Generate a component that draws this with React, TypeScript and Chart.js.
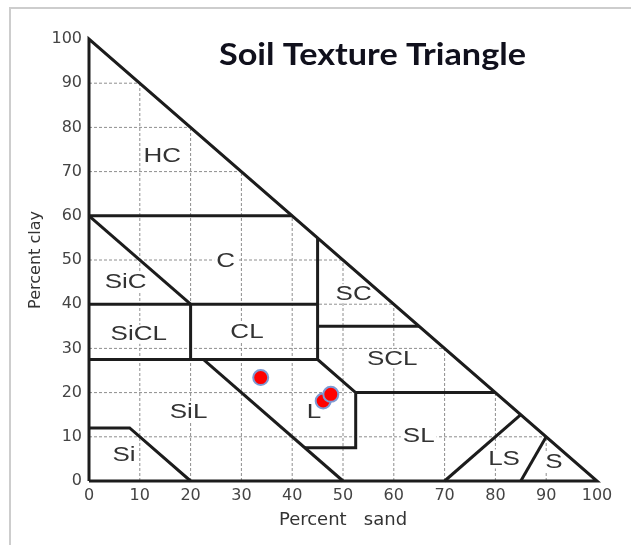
import React, { useEffect, useRef } from "react";
import { Chart, registerables } from "chart.js";

Chart.register(...registerables);

// ---------- text ----------
const CHART_TITLE = "Soil Texture Triangle";
const X_TITLE = "Percent   sand";
const Y_TITLE = "Percent clay";

// ---------- axis ticks ----------
const TICK_VALUES = [0, 10, 20, 30, 40, 50, 60, 70, 80, 90, 100];
const GRID_VALUES = [10, 20, 30, 40, 50, 60, 70, 80, 90];

// ---------- samples (percent sand, percent clay) ----------
const sampleSand = [33.8, 46.1, 47.6];
const sampleClay = [23.4, 18.1, 19.6];

// ---------- texture class labels ----------
const regionNames = ["HC", "C", "SiC", "SiCL", "CL", "SC", "SCL", "SiL", "L", "SL", "Si", "LS", "S"];
const regionSand = [14.4, 26.9, 7.2, 9.8, 31.1, 52.1, 59.7, 19.6, 44.3, 64.9, 6.9, 81.7, 91.5];
const regionClay = [73.6, 50.0, 45.1, 33.3, 33.8, 42.5, 27.8, 15.7, 15.7, 10.4, 5.9, 5.1, 4.4];

// ---------- class boundaries (polylines) ----------
const boundarySand: number[][] = [
  [0, 100, 0, 0],               // outer triangle
  [0, 40],                      // HC / C
  [45, 45, 52.5, 52.5, 42.5],   // C|SC, L right side
  [22.5, 50],                   // SiL / L
  [0, 45],                      // clay 27.5
  [0, 45],                      // clay 40
  [0, 20],                      // SiC / C
  [20, 20],                     // SiCL / CL
  [45, 65],                     // SC / SCL
  [52.5, 80],                   // SCL / SL
  [0, 8, 20],                   // Si
  [70, 85],                     // LS
  [85, 90],                     // S
];
const boundaryClay: number[][] = [
  [0, 0, 100, 0],
  [60, 60],
  [55, 27.5, 20, 7.5, 7.5],
  [27.5, 0],
  [27.5, 27.5],
  [40, 40],
  [60, 40],
  [40, 27.5],
  [35, 35],
  [20, 20],
  [12, 12, 0],
  [0, 15],
  [0, 10],
];

const LABEL_STRETCH = 1.3;

const labelPlugin = {
  id: "regionLabels",
  afterDatasetDraw(chart: any, args: any) {
    if (args.index !== 0) return;
    const { ctx } = chart;
    const xs = chart.scales.x;
    const ys = chart.scales.y;
    ctx.save();
    ctx.font = '20px "Liberation Sans", Arial, sans-serif';
    ctx.textAlign = "center";
    ctx.textBaseline = "middle";
    regionNames.forEach((name, i) => {
      const px = xs.getPixelForValue(regionSand[i]);
      const py = ys.getPixelForValue(regionClay[i]);
      const w = ctx.measureText(name).width * LABEL_STRETCH;
      ctx.fillStyle = "#ffffff";
      ctx.fillRect(px - w / 2 - 2, py - 9, w + 4, 19);
      ctx.save();
      ctx.translate(px, py + 1);
      ctx.scale(LABEL_STRETCH, 1);
      ctx.fillStyle = "#333333";
      ctx.fillText(name, 0, 0);
      ctx.restore();
    });
    ctx.restore();
  },
  afterDraw(chart: any) {
    const { ctx, chartArea } = chart;
    ctx.save();
    ctx.font = 'bold 30px Lato, "Open Sans", sans-serif';
    const w = ctx.measureText(CHART_TITLE).width;
    const s = 307 / w;
    const cx = chartArea.left + (chartArea.right - chartArea.left) * 0.558;
    const cy = chartArea.top + 26;
    ctx.translate(cx, cy);
    ctx.scale(s, 1);
    ctx.textAlign = "center";
    ctx.textBaseline = "alphabetic";
    ctx.fillStyle = "#10101c";
    ctx.fillText(CHART_TITLE, 0, 0);
    ctx.restore();
  },
};

export default function App() {
  const canvasRef = useRef<HTMLCanvasElement | null>(null);

  useEffect(() => {
    document.body.style.margin = "0";
    const canvas = canvasRef.current;
    if (!canvas) return;

    const gridPoints: any[] = [];
    GRID_VALUES.forEach((v) => {
      gridPoints.push({ x: 0, y: v }, { x: 100 - v, y: v }, { x: 0, y: null });
      gridPoints.push({ x: v, y: 0 }, { x: v, y: 100 - v }, { x: v, y: null });
    });

    const boundaryDatasets = boundarySand.map((sx, bi) => ({
      data: sx.map((x, k) => ({ x, y: boundaryClay[bi][k] })),
      showLine: true,
      borderColor: "#1c1c1c",
      borderWidth: 3,
      pointRadius: 0,
      borderJoinStyle: "miter" as const,
      tension: 0,
      clip: false as any,
      order: 5,
    }));

    const chart = new Chart(canvas, {
      type: "scatter",
      data: {
        datasets: [
          {
            data: gridPoints,
            showLine: true,
            spanGaps: false,
            borderColor: "#8e8e8e",
            borderWidth: 1,
            borderDash: [3, 2],
            pointRadius: 0,
            clip: false as any,
            order: 10,
          },
          ...boundaryDatasets,
          {
            data: sampleSand.map((x, i) => ({ x, y: sampleClay[i] })),
            showLine: false,
            pointRadius: 7.5,
            pointBackgroundColor: "#ff0000",
            pointBorderColor: "#7d9ad4",
            pointBorderWidth: 2,
            clip: false as any,
            order: 0,
          } as any,
        ],
      },
      options: {
        responsive: false,
        animation: false,
        events: [],
        layout: { padding: { left: 0, right: 34, top: 39, bottom: 0 } },
        plugins: {
          legend: { display: false },
          tooltip: { enabled: false },
        },
        scales: {
          x: {
            type: "linear",
            min: 0,
            max: 100,
            afterBuildTicks: (s: any) => {
              s.ticks = TICK_VALUES.map((v) => ({ value: v }));
            },
            afterFit: (s: any) => {
              s.height = 64;
            },
            grid: { display: false, drawTicks: false },
            border: { display: false },
            ticks: {
              padding: 5,
              color: "#444444",
              font: { family: '"DejaVu Sans", sans-serif', size: 16 },
              maxRotation: 0,
            },
            title: {
              display: true,
              text: X_TITLE,
              color: "#333333",
              font: { family: '"DejaVu Sans", sans-serif', size: 18 },
              padding: { top: 0, bottom: 14 },
            },
          },
          y: {
            type: "linear",
            min: 0,
            max: 100,
            afterBuildTicks: (s: any) => {
              s.ticks = TICK_VALUES.map((v) => ({ value: v }));
            },
            afterFit: (s: any) => {
              s.width = 89;
            },
            grid: { display: false, drawTicks: false },
            border: { display: false },
            ticks: {
              padding: 7,
              color: "#444444",
              font: { family: '"DejaVu Sans", sans-serif', size: 16 },
            },
            title: {
              display: true,
              text: Y_TITLE,
              color: "#333333",
              font: { family: '"DejaVu Sans", sans-serif', size: 16 },
              padding: { top: 26, bottom: 0 },
            },
          },
        },
      },
      plugins: [labelPlugin],
    });

    return () => chart.destroy();
  }, []);

  return (
    <div style={{ position: "relative", width: 631, height: 545, overflow: "hidden", background: "#ffffff" }}>
      <div
        style={{
          position: "absolute",
          left: 9,
          top: 7,
          width: 700,
          height: 600,
          borderLeft: "2px solid #cdcdcd",
          borderTop: "2px solid #cdcdcd",
        }}
      />
      <canvas
        ref={canvasRef}
        width={631}
        height={545}
        style={{ position: "absolute", left: 0, top: 0, display: "block" }}
      />
    </div>
  );
}
